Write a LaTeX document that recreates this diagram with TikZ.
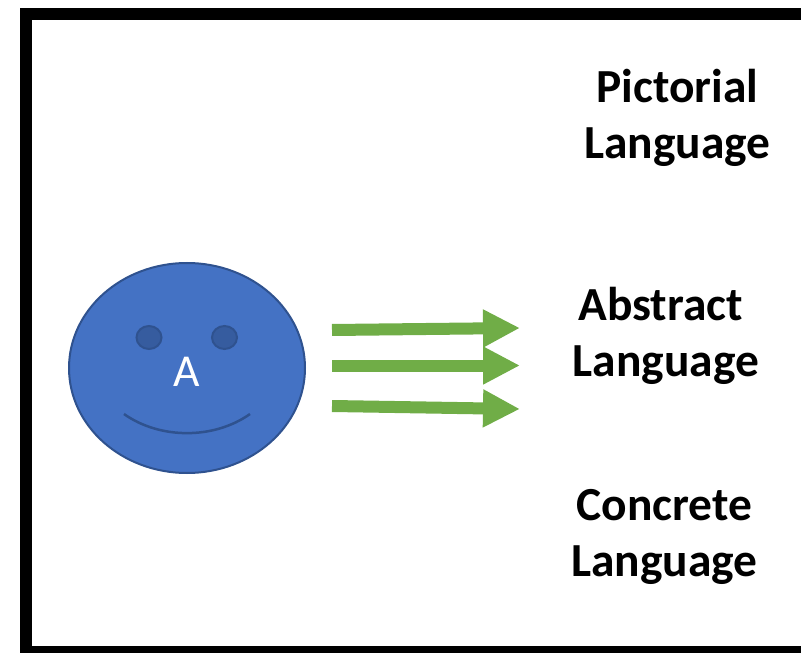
\documentclass[tikz,border=0pt]{standalone}
\usepackage{fontspec}
\setmainfont{Carlito}
\usetikzlibrary{arrows.meta,shapes.geometric}

\tikzset{
  frameline/.style={line width=0.24cm, black, line join=miter},
  facenode/.style={ellipse, draw=faceline, fill=faceblue, line width=0.04cm, inner sep=0pt, text=white},
  eyenode/.style={ellipse, draw=faceline, fill=eyeblue, line width=0.04cm, inner sep=0pt, minimum width=0.5cm, minimum height=0.46cm},
  blockarrow/.style={arrowgreen, line width=0.24cm, -{Triangle[length=0.74cm,width=0.71cm]}},
  langlabel/.style={align=center, font=\fontsize{27}{31.6}\selectfont\bfseries, inner sep=0pt}
}
\definecolor{faceblue}{HTML}{4472C4}
\definecolor{faceline}{HTML}{2F528F}
\definecolor{eyeblue}{HTML}{365C9F}
\definecolor{arrowgreen}{HTML}{70AD47}

\begin{document}
\begin{tikzpicture}

\useasboundingbox (0,0) rectangle (16.02,13.04);
\clip (0,0) rectangle (16.02,13.04);

% frame runs off the right and the bottom
\coordinate (frameA) at (16.2,12.76);
\coordinate (frameB) at (0.52,12.76);
\coordinate (frameC) at (0.52,0);
\coordinate (frameD) at (16.2,0);
\draw[frameline] (frameA) -- (frameB) -- (frameC) -- (frameD);

% face
\node[facenode, minimum width=4.72cm, minimum height=4.2cm, text height=0.72cm, text depth=0pt, font=\fontsize{26}{26}\selectfont] (face) at (3.74,5.68) {A};
\node[eyenode] (eyeL) at (2.98,6.29) {};
\node[eyenode] (eyeR) at (4.49,6.29) {};
\coordinate (smileL) at (2.48,4.76);
\coordinate (smileR) at (5.0,4.76);
\coordinate (smileA) at (3.2,4.25);
\coordinate (smileB) at (4.28,4.25);
\draw[faceline, line width=0.05cm] (smileL) .. controls (smileA) and (smileB) .. (smileR);

% arrows
\coordinate (startA) at (6.64,6.44);
\coordinate (tipA) at (10.4,6.48);
\coordinate (startB) at (6.64,5.73);
\coordinate (tipB) at (10.4,5.73);
\coordinate (startC) at (6.64,4.92);
\coordinate (tipC) at (10.4,4.86);
\draw[blockarrow] (startA) -- (tipA);
\draw[blockarrow] (startB) -- (tipB);
\draw[blockarrow] (startC) -- (tipC);

% labels
\node[langlabel] (pictorial) at (13.55,10.68) {Pictorial\\Language};
\node[langlabel] (abstract) at (13.32,6.32) {Abstract\ \mbox{}\\Language};
\node[langlabel] (concrete) at (13.29,2.3) {Concrete\\Language};

\end{tikzpicture}
\end{document}
